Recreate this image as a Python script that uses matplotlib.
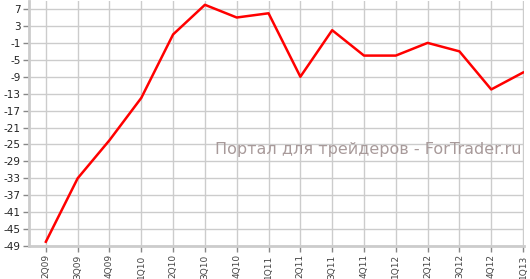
import matplotlib
matplotlib.use('Agg')
import matplotlib.pyplot as plt

# Quarter labels and values
quarters = ['2Q09', '3Q09', '4Q09', '1Q10', '2Q10', '3Q10', '4Q10', '1Q11',
            '2Q11', '3Q11', '4Q11', '1Q12', '2Q12', '3Q12', '4Q12', '1Q13']
values = [-48, -33, -24, -14, 1, 8, 5, 6, -9, 2, -4, -4, -1, -3, -12, -8]
y_ticks = [-49, -45, -41, -37, -33, -29, -25, -21, -17, -13, -9, -5, -1, 3, 7]

fig = plt.figure(figsize=(5.3, 2.79), dpi=100)
ax = fig.add_axes([29 / 530, 1 - 246 / 279, (524 - 29) / 530, 245 / 279])

x = list(range(len(quarters)))
ax.plot(x, values, color='#ff0000', linewidth=1.8, zorder=3)

ax.set_xlim(-0.53, len(quarters) - 1 + 0.03)
ax.set_ylim(-49, 8.9)
ax.set_xticks(x)
ax.set_xticklabels(quarters, rotation=90, fontsize=6.5, color='#444444',
                   family='DejaVu Sans')
ax.set_yticks(y_ticks)
ax.set_yticklabels([str(v) for v in y_ticks], fontsize=7.5, color='#222222',
                   family='DejaVu Sans')

ax.grid(True, color='#cccccc', linewidth=1.0)
ax.set_axisbelow(True)
for side in ['top', 'right']:
    ax.spines[side].set_visible(False)
for side in ['left', 'bottom']:
    ax.spines[side].set_color('#cccccc')
    ax.spines[side].set_linewidth(2)
ax.tick_params(axis='both', length=4, width=1, color='#888888', pad=2)

# watermark
ax.text(0.995, 0.392, 'Портал для трейдеров - ForTrader.ru', transform=ax.transAxes,
        ha='right', va='center', fontsize=11.5, color='#a89a9a',
        family='DejaVu Sans', zorder=2)

fig.savefig('out.png', dpi=100)
